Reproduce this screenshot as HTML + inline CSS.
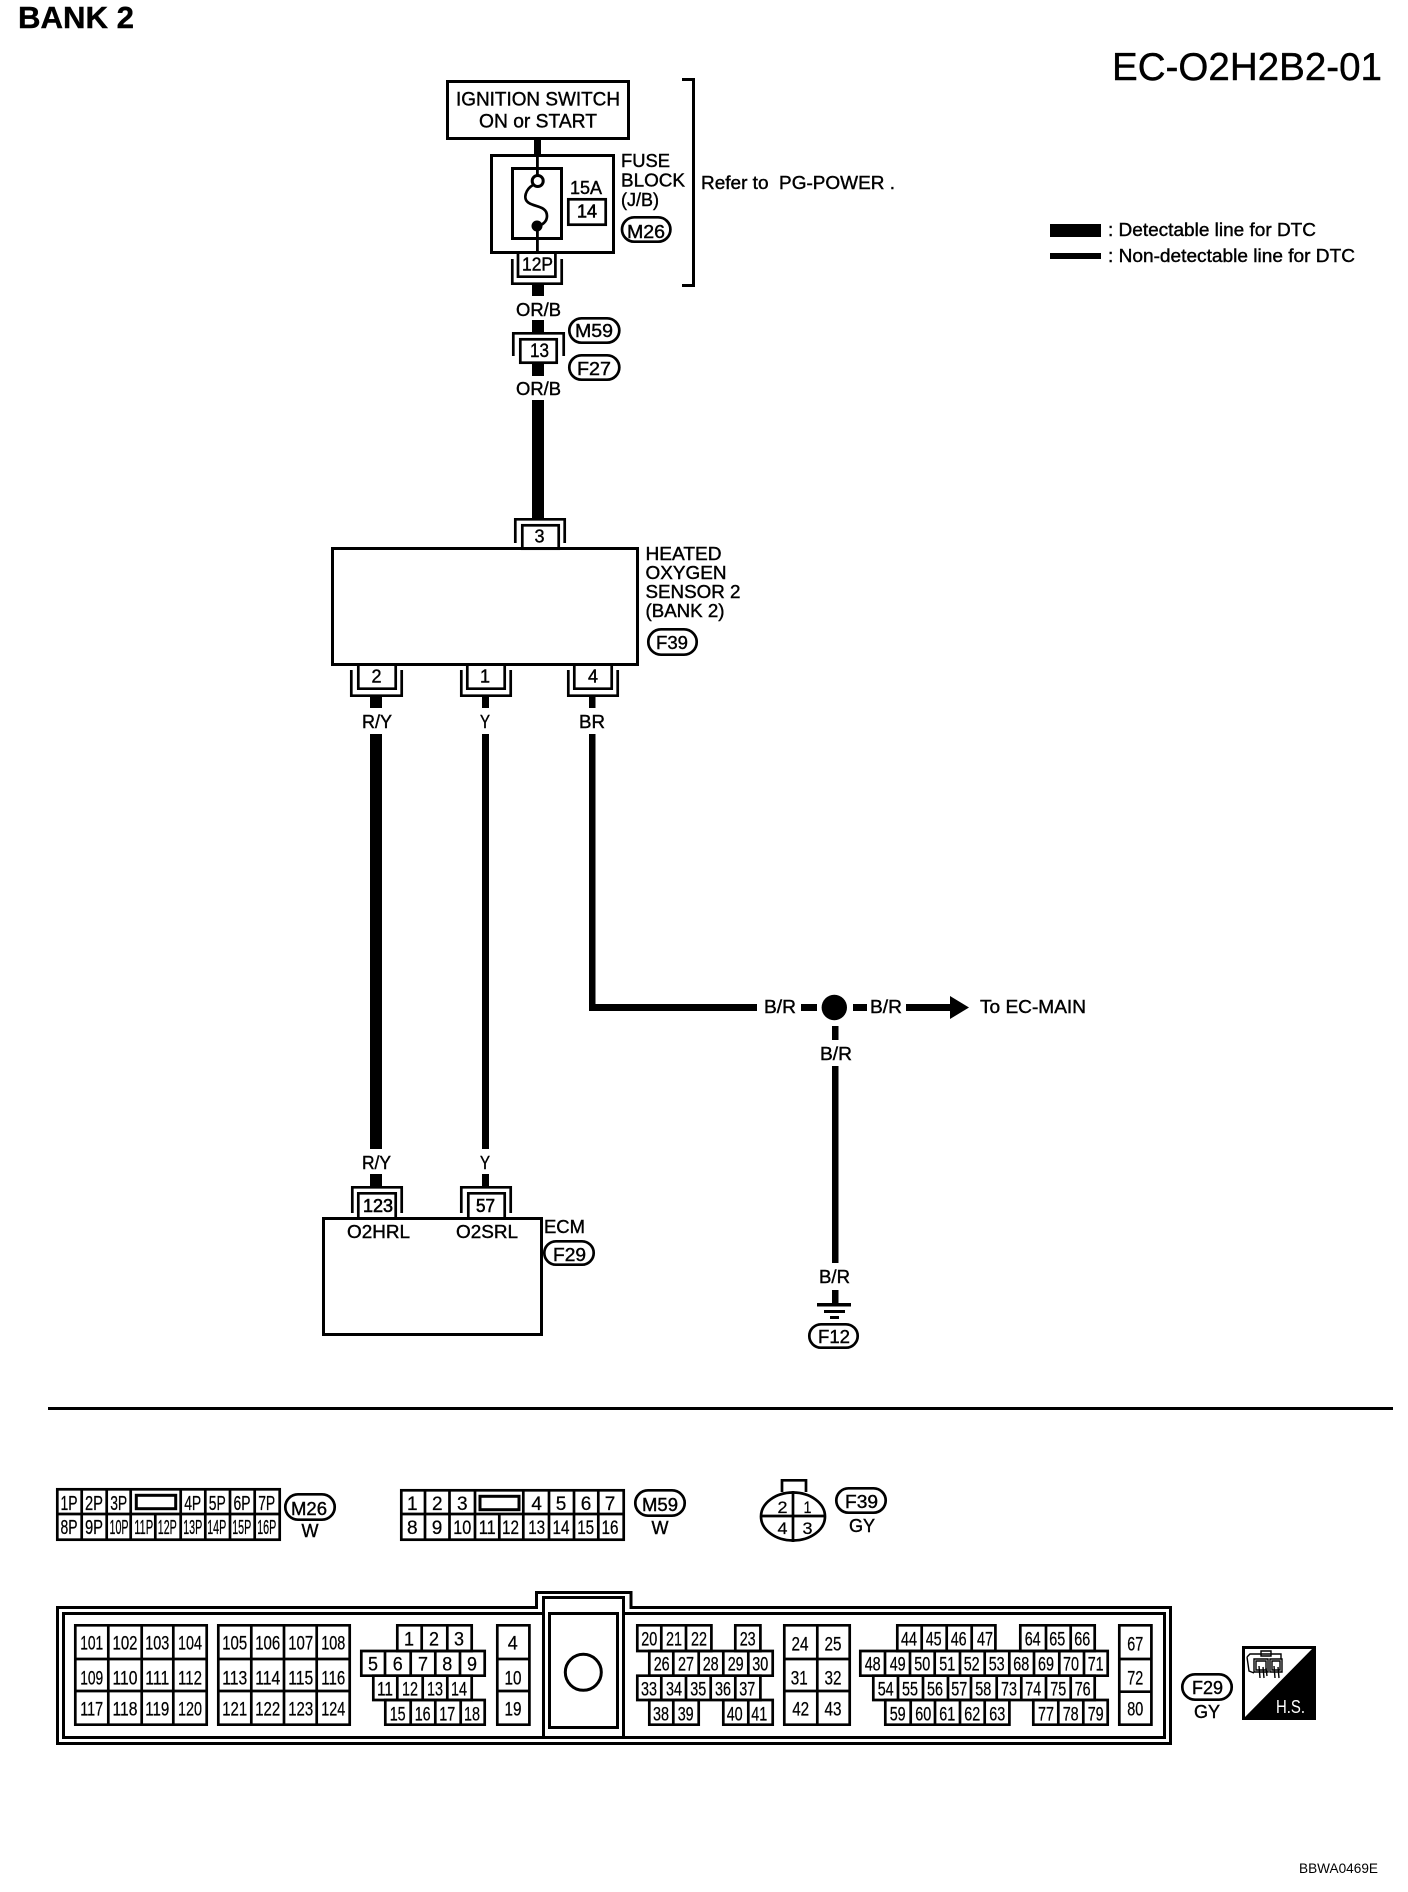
<!DOCTYPE html>
<html><head><meta charset="utf-8"><title>EC-O2H2B2-01</title>
<style>
html,body{margin:0;padding:0;background:#fff}
svg{display:block}
text{font-family:"Liberation Sans",Arial,sans-serif;fill:#000;font-size:18px;stroke:#000;stroke-width:.4;white-space:pre}
.g{fill:none;stroke:#000;stroke-width:2.7}
.w{fill:#fff;stroke:#000;stroke-width:2.7}
.m text,text.m{text-anchor:middle}
.c text{text-anchor:middle;font-size:19.5px;stroke-width:.25}
.p text{text-anchor:middle;font-size:20px;stroke-width:.25}
.n text{text-anchor:middle;font-size:19px;stroke-width:.25}
</style></head><body>
<svg width="1408" height="1892" viewBox="0 0 1408 1892" xmlns="http://www.w3.org/2000/svg">
<rect width="1408" height="1892" fill="#fff"/>
<!-- headers -->
<text x="18" y="28" style="font-size:31px;font-weight:bold" textLength="116" lengthAdjust="spacingAndGlyphs">BANK 2</text>
<text x="1112" y="80" style="font-size:39px" textLength="270" lengthAdjust="spacingAndGlyphs">EC-O2H2B2-01</text>
<rect x="1050" y="224" width="51" height="13"/>
<rect x="1050" y="253" width="51" height="6"/>
<text x="1108" y="236" textLength="208" lengthAdjust="spacingAndGlyphs">: Detectable line for DTC</text>
<text x="1108" y="262" textLength="247" lengthAdjust="spacingAndGlyphs">: Non-detectable line for DTC</text>
<text x="1299" y="1873" style="font-size:14px;stroke-width:0" textLength="79" lengthAdjust="spacingAndGlyphs">BBWA0469E</text>

<!-- ignition -->
<rect class="g" x="447.5" y="81.5" width="181" height="57" style="stroke-width:3"/>
<text x="456" y="105.7" style="font-size:19.5px" textLength="164" lengthAdjust="spacingAndGlyphs">IGNITION SWITCH</text>
<text x="479" y="127.7" style="font-size:19.5px" textLength="118" lengthAdjust="spacingAndGlyphs">ON or START</text>
<rect x="534" y="139" width="7" height="16"/>
<!-- fuse -->
<rect class="g" x="491.5" y="155.5" width="122" height="97" style="stroke-width:3"/>
<rect class="g" x="512.5" y="168.5" width="49" height="70" style="stroke-width:3"/>
<rect x="536" y="155" width="2.8" height="21"/>
<rect x="536" y="226" width="2.8" height="28"/>
<circle cx="537.7" cy="181" r="5.5" fill="#fff" stroke="#000" stroke-width="3"/>
<path d="M533 185 C526 189 522 199 529 203 C535 207 547 206 547 216 C547 222 542 225 538 226" fill="none" stroke="#000" stroke-width="2.7"/>
<circle cx="537" cy="226" r="5.5"/>
<text x="570" y="194" textLength="32" lengthAdjust="spacingAndGlyphs">15A</text>
<rect class="g" x="568.3" y="199.3" width="37.4" height="25.4"/>
<text x="577" y="217.7" style="stroke-width:.6" textLength="20" lengthAdjust="spacingAndGlyphs">14</text>
<text x="621" y="167" textLength="49" lengthAdjust="spacingAndGlyphs">FUSE</text>
<text x="621" y="186.7" textLength="64" lengthAdjust="spacingAndGlyphs">BLOCK</text>
<text x="621" y="206" textLength="38" lengthAdjust="spacingAndGlyphs">(J/B)</text>
<rect class="g" x="622" y="217.3" width="48.4" height="24.4" rx="12.2"/>
<text x="627" y="238" textLength="38" lengthAdjust="spacingAndGlyphs">M26</text>
<path class="g" d="M682 79.5 H693.5 V285.5 H682" style="stroke-width:3"/>
<text x="701" y="189" textLength="194" lengthAdjust="spacingAndGlyphs">Refer to  PG-POWER .</text>
<!-- 12P -->
<path class="g" d="M518 254 V276.7 H555.4 V254"/>
<path class="g" d="M512.3 259 V283.7 H561.7 V259"/>
<text x="522" y="270.7" textLength="31" lengthAdjust="spacingAndGlyphs">12P</text>
<rect x="532" y="285" width="12" height="11"/>
<text x="516" y="316" textLength="45" lengthAdjust="spacingAndGlyphs">OR/B</text>
<rect x="532" y="320" width="12" height="12"/>
<rect class="g" x="569.3" y="318.3" width="50" height="24.4" rx="12.2"/>
<text x="575" y="337" textLength="38" lengthAdjust="spacingAndGlyphs">M59</text>
<path class="g" d="M513.3 356 V333.3 H563.7 V356"/>
<rect class="g" x="520.3" y="339.3" width="36.4" height="23.4"/>
<text x="530" y="357" style="font-size:19px" textLength="19" lengthAdjust="spacingAndGlyphs">13</text>
<rect class="g" x="569.3" y="355.3" width="50" height="24.4" rx="12.2"/>
<text x="577" y="375" textLength="34" lengthAdjust="spacingAndGlyphs">F27</text>
<rect x="532" y="364" width="12" height="12"/>
<text x="516" y="395" textLength="45" lengthAdjust="spacingAndGlyphs">OR/B</text>
<rect x="532" y="400" width="12" height="118"/>
<!-- sensor -->
<path class="g" d="M515.3 543 V519.3 H564.7 V543"/>
<rect class="g" x="522.3" y="525.3" width="36.4" height="23.4"/>
<text class="m" x="539.5" y="542.3">3</text>
<rect class="g" x="332.5" y="548.5" width="305" height="116" style="stroke-width:3"/>
<text x="645.5" y="560" textLength="76" lengthAdjust="spacingAndGlyphs">HEATED</text>
<text x="645.5" y="579" textLength="81" lengthAdjust="spacingAndGlyphs">OXYGEN</text>
<text x="645.5" y="598" textLength="95" lengthAdjust="spacingAndGlyphs">SENSOR 2</text>
<text x="645.5" y="617" textLength="79" lengthAdjust="spacingAndGlyphs">(BANK 2)</text>
<rect class="g" x="648.3" y="629.3" width="48.4" height="25.4" rx="12.7"/>
<text x="656" y="649" textLength="32" lengthAdjust="spacingAndGlyphs">F39</text>
<path class="g" d="M358.3 666 V688.7 H395.7 V666 M351.3 670 V695.7 H401.7 V670"/>
<path class="g" d="M467.3 666 V688.7 H504.7 V666 M461.3 670 V695.7 H510.7 V670"/>
<path class="g" d="M574.3 666 V688.7 H611.7 V666 M568.3 670 V695.7 H617.7 V670"/>
<text class="m" x="376.5" y="682.7">2</text>
<text class="m" x="485" y="682.7">1</text>
<text class="m" x="593" y="682.7">4</text>
<rect x="370" y="697" width="12" height="11"/>
<rect x="482" y="697" width="7" height="11"/>
<rect x="589" y="697" width="6.5" height="11"/>
<text x="362" y="728" textLength="30" lengthAdjust="spacingAndGlyphs">R/Y</text>
<text x="480" y="728" textLength="10" lengthAdjust="spacingAndGlyphs">Y</text>
<text x="579" y="728" textLength="26" lengthAdjust="spacingAndGlyphs">BR</text>
<rect x="370" y="734" width="12" height="415"/>
<rect x="482" y="734" width="7" height="415"/>
<path d="M589 734 H595.5 V1004 H757 V1011 H589 Z"/>
<!-- junction -->
<text x="764" y="1013" textLength="32" lengthAdjust="spacingAndGlyphs">B/R</text>
<rect x="801" y="1004" width="16" height="7"/>
<circle cx="834.3" cy="1007.5" r="12.7"/>
<rect x="853" y="1004" width="14" height="7"/>
<text x="870" y="1013" textLength="32" lengthAdjust="spacingAndGlyphs">B/R</text>
<rect x="906" y="1004" width="44" height="7"/>
<path d="M950 996 L969 1007.5 L950 1019 Z"/>
<text x="980" y="1013" textLength="106" lengthAdjust="spacingAndGlyphs">To EC-MAIN</text>
<rect x="832" y="1026" width="6.5" height="14"/>
<text x="820" y="1060" textLength="32" lengthAdjust="spacingAndGlyphs">B/R</text>
<rect x="832" y="1066" width="6.5" height="197"/>
<text x="819" y="1283" textLength="31" lengthAdjust="spacingAndGlyphs">B/R</text>
<rect x="832" y="1290" width="6.5" height="15"/>
<rect x="817" y="1303" width="34" height="3.5"/>
<rect x="824" y="1310" width="21" height="3"/>
<rect x="830" y="1316" width="9" height="3"/>
<rect class="g" x="809.3" y="1324.3" width="48.4" height="23.4" rx="11.7"/>
<text x="818" y="1343" textLength="32" lengthAdjust="spacingAndGlyphs">F12</text>
<!-- ECM -->
<text x="362" y="1169" textLength="29" lengthAdjust="spacingAndGlyphs">R/Y</text>
<text x="480" y="1169" textLength="10" lengthAdjust="spacingAndGlyphs">Y</text>
<rect x="370" y="1174" width="12" height="12"/>
<rect x="482" y="1174" width="7" height="12"/>
<path class="g" d="M352.3 1213 V1187.3 H401.7 V1213 M461.3 1213 V1187.3 H510.7 V1213"/>
<path class="g" d="M358.3 1217 V1193.3 H395.7 V1217 M468.3 1217 V1193.3 H504.7 V1217"/>
<text x="363" y="1212" style="stroke-width:.6" textLength="30" lengthAdjust="spacingAndGlyphs">123</text>
<text x="476" y="1212" style="stroke-width:.6" textLength="19" lengthAdjust="spacingAndGlyphs">57</text>
<rect class="g" x="323.5" y="1218.5" width="218" height="116" style="stroke-width:3"/>
<text x="347" y="1238" textLength="63" lengthAdjust="spacingAndGlyphs">O2HRL</text>
<text x="456" y="1238" textLength="62" lengthAdjust="spacingAndGlyphs">O2SRL</text>
<text x="544" y="1233" textLength="41" lengthAdjust="spacingAndGlyphs">ECM</text>
<rect class="g" x="544.3" y="1241.3" width="49.4" height="23.4" rx="11.7"/>
<text x="553" y="1261" textLength="33" lengthAdjust="spacingAndGlyphs">F29</text>
<!-- separator -->
<rect x="48" y="1407" width="1345" height="3"/>

<!-- M26 -->
<rect class="g" x="57.3" y="1489.3" width="222.4" height="50.4"/>
<path class="g" d="M57 1514 H280 M81.7 1489 V1540 M106.7 1489 V1540 M130.7 1489 V1540 M155.3 1514 V1540 M180.7 1489 V1540 M205.3 1489 V1540 M230 1489 V1540 M254.7 1489 V1540"/>
<rect class="g" x="136.3" y="1495.3" width="39.4" height="13.4" style="stroke-width:3"/>
<g class="p">
<text x="69" y="1510" textLength="17" lengthAdjust="spacingAndGlyphs">1P</text>
<text x="94" y="1510" textLength="18" lengthAdjust="spacingAndGlyphs">2P</text>
<text x="118.7" y="1510" textLength="17" lengthAdjust="spacingAndGlyphs">3P</text>
<text x="192.7" y="1510" textLength="17" lengthAdjust="spacingAndGlyphs">4P</text>
<text x="217.3" y="1510" textLength="17" lengthAdjust="spacingAndGlyphs">5P</text>
<text x="242" y="1510" textLength="17" lengthAdjust="spacingAndGlyphs">6P</text>
<text x="266.7" y="1510" textLength="17" lengthAdjust="spacingAndGlyphs">7P</text>
<text x="69" y="1534" textLength="17" lengthAdjust="spacingAndGlyphs">8P</text>
<text x="94" y="1534" textLength="18" lengthAdjust="spacingAndGlyphs">9P</text>
<text x="119" y="1534" textLength="19" lengthAdjust="spacingAndGlyphs">10P</text>
<text x="143.7" y="1534" textLength="19" lengthAdjust="spacingAndGlyphs">11P</text>
<text x="167.3" y="1534" textLength="19" lengthAdjust="spacingAndGlyphs">12P</text>
<text x="192.7" y="1534" textLength="19" lengthAdjust="spacingAndGlyphs">13P</text>
<text x="216.7" y="1534" textLength="19" lengthAdjust="spacingAndGlyphs">14P</text>
<text x="241.7" y="1534" textLength="19" lengthAdjust="spacingAndGlyphs">15P</text>
<text x="266.7" y="1534" textLength="19" lengthAdjust="spacingAndGlyphs">16P</text>
</g>
<rect class="g" x="285.3" y="1494.3" width="49.4" height="25.4" rx="12.7"/>
<text x="291" y="1515" textLength="36" lengthAdjust="spacingAndGlyphs">M26</text>
<text class="m" x="310" y="1537">W</text>

<!-- M59 -->
<rect class="g" x="401.3" y="1490.3" width="222.4" height="49.4"/>
<path class="g" d="M401 1514 H624 M425 1490 V1540 M449.5 1490 V1540 M475 1490 V1540 M499.3 1514 V1540 M523.3 1490 V1540 M549 1490 V1540 M574 1490 V1540 M598.3 1490 V1540"/>
<rect class="g" x="480" y="1496.3" width="39" height="13.4" style="stroke-width:3"/>
<g class="n">
<text x="412.3" y="1510">1</text><text x="437.3" y="1510">2</text><text x="462.3" y="1510">3</text>
<text x="536.7" y="1510">4</text><text x="561" y="1510">5</text><text x="586" y="1510">6</text><text x="610" y="1510">7</text>
<text x="412.3" y="1534">8</text><text x="437" y="1534">9</text>
<text x="462.3" y="1534" textLength="18" lengthAdjust="spacingAndGlyphs">10</text>
<text x="487.3" y="1534" textLength="17" lengthAdjust="spacingAndGlyphs">11</text>
<text x="510.5" y="1534" textLength="17" lengthAdjust="spacingAndGlyphs">12</text>
<text x="536.7" y="1534" textLength="17" lengthAdjust="spacingAndGlyphs">13</text>
<text x="561" y="1534" textLength="17" lengthAdjust="spacingAndGlyphs">14</text>
<text x="585.7" y="1534" textLength="17" lengthAdjust="spacingAndGlyphs">15</text>
<text x="610" y="1534" textLength="17" lengthAdjust="spacingAndGlyphs">16</text>
</g>
<rect class="g" x="635.3" y="1490.3" width="49.4" height="25.4" rx="12.7"/>
<text x="642" y="1511" textLength="36" lengthAdjust="spacingAndGlyphs">M59</text>
<text class="m" x="660" y="1534">W</text>

<!-- F39 -->
<path class="g" d="M782 1492 V1480.3 H806 V1492"/>
<ellipse class="g" cx="793" cy="1516.5" rx="32" ry="24"/>
<path class="g" d="M793 1491 V1542 M761 1516 H825"/>
<g class="n">
<text x="782.5" y="1513" style="font-size:17px" textLength="10" lengthAdjust="spacingAndGlyphs">2</text>
<text x="807.5" y="1513" style="font-size:17px" textLength="8" lengthAdjust="spacingAndGlyphs">1</text>
<text x="782.5" y="1534" style="font-size:17px" textLength="10" lengthAdjust="spacingAndGlyphs">4</text>
<text x="807.5" y="1534" style="font-size:17px" textLength="10" lengthAdjust="spacingAndGlyphs">3</text>
</g>
<rect class="g" x="836.3" y="1488.3" width="49.4" height="24.4" rx="12.2"/>
<text x="845" y="1508" textLength="33" lengthAdjust="spacingAndGlyphs">F39</text>
<text class="m" x="862" y="1532">GY</text>

<!-- F29 outer -->
<path d="M57.5 1607.5 H536.5 V1592.5 H631 V1607.5 H1170.5 V1743.5 H57.5 Z" fill="none" stroke="#000" stroke-width="3"/>
<path d="M543.5 1613.5 H63.5 V1737.5 H1164.5 V1613.5 H623.5" fill="none" stroke="#000" stroke-width="3"/>
<path d="M543.5 1737.5 V1597.5 H623.5 V1737.5" fill="none" stroke="#000" stroke-width="3"/>
<rect x="549.5" y="1613.5" width="68" height="114" fill="none" stroke="#000" stroke-width="3"/>
<circle cx="583.3" cy="1672.3" r="18" fill="none" stroke="#000" stroke-width="3"/>

<!-- Blocks -->
<g class="g">
<path d="M75.3 1625.3 H206.7 V1724.7 H75.3 Z M75 1659 H207 M75 1691 H207 M108.3 1625 V1725 M141.7 1625 V1725 M173.3 1625 V1725"/>
<path d="M218.3 1625.3 H349.7 V1724.7 H218.3 Z M218 1659 H350 M218 1691 H350 M251.3 1625 V1725 M284 1625 V1725 M316.7 1625 V1725"/>
<path d="M397.3 1625.3 H471.7 V1651 H397.3 Z M421.7 1625 V1651 M447.3 1625 V1651"/>
<path d="M361.3 1651 H484.7 V1675.7 H361.3 Z M385 1651 V1676 M410.7 1651 V1676 M435.3 1651 V1676 M460 1651 V1676"/>
<path d="M373.3 1675.7 H471.7 V1700 H373.3 Z M397.3 1676 V1700 M422.7 1676 V1700 M447.3 1676 V1700"/>
<path d="M385.3 1700 H484.7 V1724.7 H385.3 Z M410.7 1700 V1725 M435.3 1700 V1725 M460.7 1700 V1725"/>
<path d="M497.3 1625.3 H529.4 V1724.7 H497.3 Z M497 1659 H530 M497 1691 H530"/>
<path d="M637.3 1625.3 H711.4 V1651 H637.3 Z M661.3 1625 V1651 M686 1625 V1651"/>
<path d="M735.3 1625.3 H760.4 V1651 H735.3 Z"/>
<path d="M649.3 1651 H772.7 V1675.7 H649.3 Z M673.3 1651 V1676 M698.7 1651 V1676 M723.3 1651 V1676 M748.3 1651 V1676"/>
<path d="M637.3 1675.7 H760.4 V1700 H637.3 Z M661.3 1676 V1700 M686 1676 V1700 M710.7 1676 V1700 M735.3 1676 V1700"/>
<path d="M649.3 1700 H698.7 V1724.7 H649.3 Z M673.3 1700 V1725"/>
<path d="M723.3 1700 H772.7 V1724.7 H723.3 Z M748.3 1700 V1725"/>
<path d="M784.3 1625.3 H849.7 V1724.7 H784.3 Z M784 1659 H850 M784 1691 H850 M817.3 1625 V1725"/>
<path d="M897.3 1625.3 H995.4 V1651 H897.3 Z M921.7 1625 V1651 M946.7 1625 V1651 M971.7 1625 V1651"/>
<path d="M1020.3 1625.3 H1094.7 V1651 H1020.3 Z M1046 1625 V1651 M1070.7 1625 V1651"/>
<path d="M860.3 1651 H1107.7 V1675.7 H860.3 Z M885 1651 V1676 M910 1651 V1676 M934.7 1651 V1676 M960 1651 V1676 M984.7 1651 V1676 M1009.3 1651 V1676 M1034 1651 V1676 M1059.3 1651 V1676 M1084 1651 V1676"/>
<path d="M873.3 1675.7 H1094.7 V1700 H873.3 Z M898 1676 V1700 M923 1676 V1700 M948 1676 V1700 M971 1676 V1700 M996.7 1676 V1700 M1021.3 1676 V1700 M1046 1676 V1700 M1070.7 1676 V1700"/>
<path d="M885.3 1700 H1009.4 V1724.7 H885.3 Z M910.7 1700 V1725 M935 1700 V1725 M960 1700 V1725 M984.7 1700 V1725"/>
<path d="M1033.3 1700 H1107.7 V1724.7 H1033.3 Z M1058.3 1700 V1725 M1083.3 1700 V1725"/>
<path d="M1119.3 1625.3 H1151.4 V1724.7 H1119.3 Z M1119 1659 H1152 M1119 1691.7 H1152"/>
</g>

<g class="c" transform="translate(0,1.5)">
<text x="91.7" y="1648" textLength="23" lengthAdjust="spacingAndGlyphs">101</text><text x="125" y="1648" textLength="25" lengthAdjust="spacingAndGlyphs">102</text><text x="157.3" y="1648" textLength="24" lengthAdjust="spacingAndGlyphs">103</text><text x="190" y="1648" textLength="24" lengthAdjust="spacingAndGlyphs">104</text>
<text x="91.7" y="1683" textLength="23" lengthAdjust="spacingAndGlyphs">109</text><text x="125" y="1683" textLength="25" lengthAdjust="spacingAndGlyphs">110</text><text x="157.3" y="1683" textLength="24" lengthAdjust="spacingAndGlyphs">111</text><text x="190" y="1683" textLength="24" lengthAdjust="spacingAndGlyphs">112</text>
<text x="91.7" y="1714" textLength="23" lengthAdjust="spacingAndGlyphs">117</text><text x="125" y="1714" textLength="25" lengthAdjust="spacingAndGlyphs">118</text><text x="157.3" y="1714" textLength="24" lengthAdjust="spacingAndGlyphs">119</text><text x="190" y="1714" textLength="24" lengthAdjust="spacingAndGlyphs">120</text>
<text x="234.7" y="1648" textLength="25" lengthAdjust="spacingAndGlyphs">105</text><text x="267.7" y="1648" textLength="25" lengthAdjust="spacingAndGlyphs">106</text><text x="300.7" y="1648" textLength="25" lengthAdjust="spacingAndGlyphs">107</text><text x="333.3" y="1648" textLength="24" lengthAdjust="spacingAndGlyphs">108</text>
<text x="234.7" y="1683" textLength="25" lengthAdjust="spacingAndGlyphs">113</text><text x="267.7" y="1683" textLength="25" lengthAdjust="spacingAndGlyphs">114</text><text x="300.7" y="1683" textLength="25" lengthAdjust="spacingAndGlyphs">115</text><text x="333.3" y="1683" textLength="24" lengthAdjust="spacingAndGlyphs">116</text>
<text x="234.7" y="1714" textLength="25" lengthAdjust="spacingAndGlyphs">121</text><text x="267.7" y="1714" textLength="25" lengthAdjust="spacingAndGlyphs">122</text><text x="300.7" y="1714" textLength="25" lengthAdjust="spacingAndGlyphs">123</text><text x="333.3" y="1714" textLength="24" lengthAdjust="spacingAndGlyphs">124</text>

<text x="409" y="1644" textLength="10" lengthAdjust="spacingAndGlyphs">1</text><text x="434" y="1644" textLength="10" lengthAdjust="spacingAndGlyphs">2</text><text x="459" y="1644" textLength="10" lengthAdjust="spacingAndGlyphs">3</text>
<text x="373" y="1669" textLength="10" lengthAdjust="spacingAndGlyphs">5</text><text x="397.7" y="1669" textLength="10" lengthAdjust="spacingAndGlyphs">6</text><text x="423" y="1669" textLength="10" lengthAdjust="spacingAndGlyphs">7</text><text x="447.3" y="1669" textLength="10" lengthAdjust="spacingAndGlyphs">8</text><text x="472" y="1669" textLength="10" lengthAdjust="spacingAndGlyphs">9</text>
<text x="385" y="1694" textLength="16" lengthAdjust="spacingAndGlyphs">11</text><text x="410" y="1694" textLength="16" lengthAdjust="spacingAndGlyphs">12</text><text x="435" y="1694" textLength="16" lengthAdjust="spacingAndGlyphs">13</text><text x="459" y="1694" textLength="16" lengthAdjust="spacingAndGlyphs">14</text>
<text x="397.7" y="1719" textLength="16" lengthAdjust="spacingAndGlyphs">15</text><text x="422.7" y="1719" textLength="16" lengthAdjust="spacingAndGlyphs">16</text><text x="447.3" y="1719" textLength="16" lengthAdjust="spacingAndGlyphs">17</text><text x="472" y="1719" textLength="16" lengthAdjust="spacingAndGlyphs">18</text>
<text x="512.7" y="1648" textLength="10" lengthAdjust="spacingAndGlyphs">4</text>
<text x="513" y="1683" textLength="17" lengthAdjust="spacingAndGlyphs">10</text>
<text x="513" y="1714" textLength="17" lengthAdjust="spacingAndGlyphs">19</text>

<text x="649.3" y="1644" textLength="16" lengthAdjust="spacingAndGlyphs">20</text><text x="674" y="1644" textLength="16" lengthAdjust="spacingAndGlyphs">21</text><text x="699" y="1644" textLength="16" lengthAdjust="spacingAndGlyphs">22</text><text x="747.7" y="1644" textLength="16" lengthAdjust="spacingAndGlyphs">23</text>
<text x="661.7" y="1669" textLength="16" lengthAdjust="spacingAndGlyphs">26</text><text x="686" y="1669" textLength="16" lengthAdjust="spacingAndGlyphs">27</text><text x="710.7" y="1669" textLength="16" lengthAdjust="spacingAndGlyphs">28</text><text x="735.7" y="1669" textLength="16" lengthAdjust="spacingAndGlyphs">29</text><text x="760.3" y="1669" textLength="16" lengthAdjust="spacingAndGlyphs">30</text>
<text x="649" y="1694" textLength="16" lengthAdjust="spacingAndGlyphs">33</text><text x="674" y="1694" textLength="16" lengthAdjust="spacingAndGlyphs">34</text><text x="698.3" y="1694" textLength="16" lengthAdjust="spacingAndGlyphs">35</text><text x="723" y="1694" textLength="16" lengthAdjust="spacingAndGlyphs">36</text><text x="747.3" y="1694" textLength="16" lengthAdjust="spacingAndGlyphs">37</text>
<text x="661" y="1719" textLength="16" lengthAdjust="spacingAndGlyphs">38</text><text x="685.7" y="1719" textLength="16" lengthAdjust="spacingAndGlyphs">39</text><text x="734.7" y="1719" textLength="16" lengthAdjust="spacingAndGlyphs">40</text><text x="759.3" y="1719" textLength="16" lengthAdjust="spacingAndGlyphs">41</text>

<text x="800" y="1649" textLength="17" lengthAdjust="spacingAndGlyphs">24</text><text x="833" y="1649" textLength="17" lengthAdjust="spacingAndGlyphs">25</text>
<text x="799.3" y="1683" textLength="17" lengthAdjust="spacingAndGlyphs">31</text><text x="833" y="1683" textLength="17" lengthAdjust="spacingAndGlyphs">32</text>
<text x="800.7" y="1714" textLength="17" lengthAdjust="spacingAndGlyphs">42</text><text x="833" y="1714" textLength="17" lengthAdjust="spacingAndGlyphs">43</text>

<text x="909" y="1644" textLength="16" lengthAdjust="spacingAndGlyphs">44</text><text x="933.7" y="1644" textLength="16" lengthAdjust="spacingAndGlyphs">45</text><text x="958.7" y="1644" textLength="16" lengthAdjust="spacingAndGlyphs">46</text><text x="985" y="1644" textLength="16" lengthAdjust="spacingAndGlyphs">47</text>
<text x="1032.7" y="1644" textLength="16" lengthAdjust="spacingAndGlyphs">64</text><text x="1057.3" y="1644" textLength="16" lengthAdjust="spacingAndGlyphs">65</text><text x="1082.3" y="1644" textLength="16" lengthAdjust="spacingAndGlyphs">66</text>
<text x="872.7" y="1669" textLength="16" lengthAdjust="spacingAndGlyphs">48</text><text x="897.7" y="1669" textLength="16" lengthAdjust="spacingAndGlyphs">49</text><text x="922.3" y="1669" textLength="16" lengthAdjust="spacingAndGlyphs">50</text><text x="947.3" y="1669" textLength="16" lengthAdjust="spacingAndGlyphs">51</text><text x="971.7" y="1669" textLength="16" lengthAdjust="spacingAndGlyphs">52</text><text x="996.7" y="1669" textLength="16" lengthAdjust="spacingAndGlyphs">53</text><text x="1021.3" y="1669" textLength="16" lengthAdjust="spacingAndGlyphs">68</text><text x="1046" y="1669" textLength="16" lengthAdjust="spacingAndGlyphs">69</text><text x="1071" y="1669" textLength="16" lengthAdjust="spacingAndGlyphs">70</text><text x="1095.7" y="1669" textLength="16" lengthAdjust="spacingAndGlyphs">71</text>
<text x="885.7" y="1694" textLength="16" lengthAdjust="spacingAndGlyphs">54</text><text x="910" y="1694" textLength="16" lengthAdjust="spacingAndGlyphs">55</text><text x="935" y="1694" textLength="16" lengthAdjust="spacingAndGlyphs">56</text><text x="959.3" y="1694" textLength="16" lengthAdjust="spacingAndGlyphs">57</text><text x="983.3" y="1694" textLength="16" lengthAdjust="spacingAndGlyphs">58</text><text x="1009" y="1694" textLength="16" lengthAdjust="spacingAndGlyphs">73</text><text x="1033.3" y="1694" textLength="16" lengthAdjust="spacingAndGlyphs">74</text><text x="1058.3" y="1694" textLength="16" lengthAdjust="spacingAndGlyphs">75</text><text x="1082.7" y="1694" textLength="16" lengthAdjust="spacingAndGlyphs">76</text>
<text x="897.7" y="1719" textLength="16" lengthAdjust="spacingAndGlyphs">59</text><text x="923.3" y="1719" textLength="16" lengthAdjust="spacingAndGlyphs">60</text><text x="947.3" y="1719" textLength="16" lengthAdjust="spacingAndGlyphs">61</text><text x="972.3" y="1719" textLength="16" lengthAdjust="spacingAndGlyphs">62</text><text x="997.3" y="1719" textLength="16" lengthAdjust="spacingAndGlyphs">63</text><text x="1046" y="1719" textLength="16" lengthAdjust="spacingAndGlyphs">77</text><text x="1070.7" y="1719" textLength="16" lengthAdjust="spacingAndGlyphs">78</text><text x="1095.7" y="1719" textLength="16" lengthAdjust="spacingAndGlyphs">79</text>
<text x="1135.3" y="1649" textLength="16" lengthAdjust="spacingAndGlyphs">67</text><text x="1135.3" y="1683" textLength="16" lengthAdjust="spacingAndGlyphs">72</text><text x="1135.3" y="1714" textLength="16" lengthAdjust="spacingAndGlyphs">80</text>
</g>

<rect class="g" x="1182.3" y="1674.3" width="49.4" height="25.4" rx="12.7"/>
<text x="1192" y="1694" textLength="31" lengthAdjust="spacingAndGlyphs">F29</text>
<text class="m" x="1207" y="1718">GY</text>

<!-- H.S. icon -->
<rect x="1242" y="1646" width="74" height="74"/>
<path d="M1245 1649 H1312 L1245 1717 Z" fill="#fff"/>
<text x="1276" y="1713" style="fill:#fff;stroke:none;font-size:18px" textLength="29" lengthAdjust="spacingAndGlyphs">H.S.</text>
<g fill="none" stroke="#000" stroke-width="1.4">
<path d="M1247 1657 L1250 1654 H1281 V1659 M1247 1657 L1249 1671 L1254 1673"/>
<path d="M1261 1651 H1271 V1656 H1261 Z"/>
<path d="M1254 1659 H1268 V1672 H1254 Z M1270 1659 H1282 V1672 H1270 Z M1256 1661 H1266 V1670 H1256 Z M1272 1661 H1280 V1670 H1272 Z"/>
<path d="M1259 1666 L1260 1678 M1263 1667 L1264 1678 M1266 1668 L1267 1676 M1274 1666 L1275 1678 M1278 1667 L1279 1678"/>
</g>
</svg>
</body></html>
